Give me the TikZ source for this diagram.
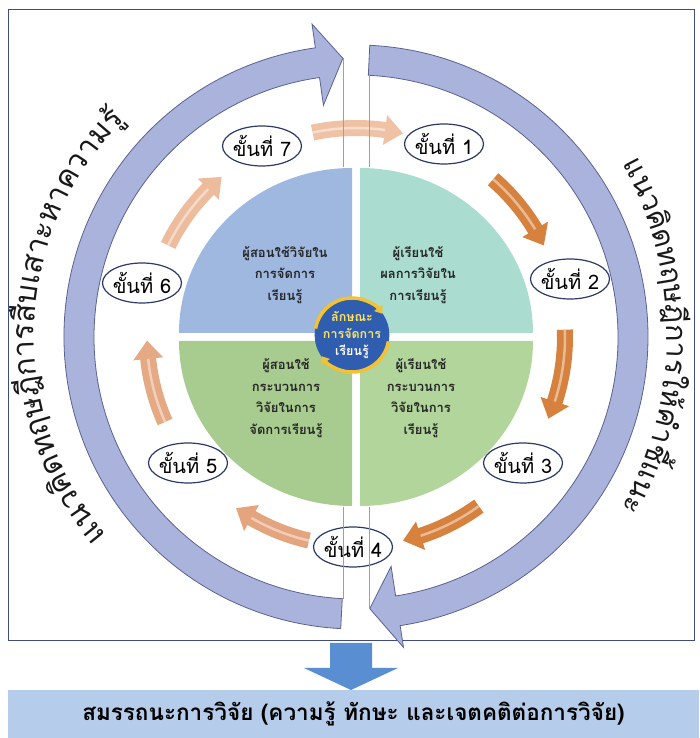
\documentclass[tikz,border=0pt]{standalone}
\usepackage{fontspec}
\usetikzlibrary{shapes.geometric, arrows.meta}
\newfontfamily\thaifont[Script=Thai]{Loma}

\definecolor{ringfill}{HTML}{A9B3DB}
\definecolor{ringline}{HTML}{5B6190}
\definecolor{frameline}{HTML}{3E4C82}
\definecolor{qblue}{HTML}{9FB8E0}
\definecolor{qmint}{HTML}{AADCCF}
\definecolor{qgreen}{HTML}{A8CC90}
\definecolor{qlime}{HTML}{B2D59C}
\definecolor{badgefill}{HTML}{2F5DB0}
\definecolor{gold}{HTML}{F2C232}
\definecolor{badgetext}{HTML}{FFE45C}
\definecolor{stepline}{HTML}{2B3A67}
\definecolor{boxfill}{HTML}{B5CDEA}
\definecolor{downfill}{HTML}{5A8ED3}
\definecolor{peach}{HTML}{EFC2A5}
\definecolor{rust}{HTML}{D6823E}
\definecolor{tan}{HTML}{E3A47E}

\newlength\clw
\newdimen\bendrun
% angles for text bent round the ring, one Thai cluster at a time (clockwise)
\newcommand\bendprep[5]{% #1 list macro, #2 radius, #3 middle angle, #4 font size, #5 clusters
  \global\bendrun=0pt
  \foreach \ch in {#5}{%
    \settowidth\clw{\thaifont\fontsize{#4}{#4}\selectfont\ch}%
    \global\advance\bendrun by \clw
  }%
  \pgfmathsetmacro\tmp{#3+\bendrun/2/#2*180/pi}%
  \xdef\bendang{\tmp}%
  \global\bendrun=0pt
  \gdef#1{}%
  \foreach \ch [count=\k] in {#5}{%
    \settowidth\clw{\thaifont\fontsize{#4}{#4}\selectfont\ch}%
    \pgfmathsetmacro\cang{\bendang-(\bendrun+0.5*\clw)/#2*180/pi}%
    \pgfmathsetmacro\rot{\cang-90}%
    \global\advance\bendrun by \clw
    \ifnum\k=1 \xdef#1{\cang/\rot/\ch}\else\xdef#1{#1,\cang/\rot/\ch}\fi
  }%
}
% curved block arrow between two steps (clockwise)
\newcommand\steparrow[3]{% from angle, to angle, colour
  \pgfmathsetmacro\hb{#2+5}%
  \fill[#3] (#1:201) arc[start angle=#1, end angle=\hb, radius=201]
    -- (\hb:194) -- (#2:209) -- (\hb:224) -- (\hb:217)
    arc[start angle=\hb, end angle=#1, radius=217] -- cycle;
  \draw[white, opacity=0.45, line width=2.5pt]
    (#1:209) arc[start angle=#1, end angle=\hb, radius=209];
}

\begin{document}
\bendprep{\leftlist}{305}{177.5}{30.5}{แ,น,ว,คิ,ด,ท,ฤ,ษ,ฎี,ก,า,ร,สื,บ,เ,ส,า,ะ,ห,า,ค,ว,า,ม,รู้}%
\bendprep{\rightlist}{352}{-0.2}{29}{แ,น,ว,คิ,ด,ท,ฤ,ษ,ฎี,ก,า,ร,ใ,ห้,คำ,ชี้,แ,น,ะ}%
\begin{tikzpicture}[x=1pt, y=1pt, font=\thaifont,
  ring/.style={fill=ringfill, draw=ringline, line width=0.8pt},
  hint/.style={draw=gray!75, line width=0.6pt},
  stepnode/.style={ellipse, draw=stepline, line width=1.2pt, fill=white,
    minimum width=79pt, minimum height=40pt, inner sep=0pt,
    font=\thaifont\fontsize{20}{21}\selectfont},
  quadtext/.style={align=center, text=black!85,
    font=\thaifont\bfseries\fontsize{13}{21.5}\selectfont},
  bendchar/.style={anchor=base, inner sep=0pt, text=black!90,
    font=\thaifont\fontsize{#1}{#1}\selectfont}
]
  \useasboundingbox (0,0) rectangle (699,738);

  % frame
  \draw[frameline, line width=1pt] (8,97) rectangle (694,728);

  \begin{scope}[shift={(356,401)}]
    % quarters
    \fill[qblue] (-4,4) -- ++(-173,0)
      arc[start angle=180, end angle=90, x radius=173, y radius=165] -- cycle;
    \fill[qmint] (4,4) -- ++(0,165)
      arc[start angle=90, end angle=0, x radius=173, y radius=165] -- cycle;
    \fill[qgreen] (-4,-4) -- ++(0,-165)
      arc[start angle=270, end angle=180, x radius=173, y radius=165] -- cycle;
    \fill[qlime] (4,-4) -- ++(173,0)
      arc[start angle=0, end angle=-90, x radius=173, y radius=165] -- cycle;

    \node[quadtext] (teach) at (-71,62) {ผู้สอนใช้วิจัยใน\\การจัดการ\\เรียนรู้};
    \node[quadtext] (learn) at (62,62) {ผู้เรียนใช้\\ผลการวิจัยใน\\การเรียนรู้};
    \node[quadtext] (teachproc) at (-70,-61) {ผู้สอนใช้\\กระบวนการ\\วิจัยในการ\\จัดการเรียนรู้};
    \node[quadtext] (learnproc) at (65,-61) {ผู้เรียนใช้\\กระบวนการ\\วิจัยในการ\\เรียนรู้};

    % big ring arrows
    \draw[ring] (267:262) arc[start angle=267, end angle=98, radius=262]
      -- (98:234) -- (92.7:279) -- (98:316) -- (98:292)
      arc[start angle=98, end angle=267, radius=292] -- cycle;
    \draw[ring] (87.3:262) -- (87.3:292)
      arc[start angle=87.3, end angle=-81.3, radius=292]
      -- (-81.3:314) -- (-87.1:272) -- (-81.3:232) -- (-81.3:262)
      arc[start angle=-81.3, end angle=87.3, radius=262] -- cycle;

    % step arrows
    \steparrow{102}{77}{peach}
    \steparrow{49}{26}{rust}
    \steparrow{2}{-23}{rust}
    \steparrow{-54}{-77}{rust}
    \steparrow{-103}{-125}{tan}
    \steparrow{-156}{-179}{tan!85!peach}
    \steparrow{154}{130}{peach!80!tan}

    % steps
    \node[stepnode] (s1) at (88,193) {\makebox[0pt]{ขั้นที่ 1}};
    \node[stepnode] (s2) at (214,58) {\makebox[0pt]{ขั้นที่ 2}};
    \node[stepnode] (s3) at (167,-126) {\makebox[0pt]{ขั้นที่ 3}};
    \node[stepnode] (s4) at (-3,-210) {\makebox[0pt]{ขั้นที่ 4}};
    \node[stepnode] (s5) at (-168,-126) {\makebox[0pt]{ขั้นที่ 5}};
    \node[stepnode] (s6) at (-214,54) {\makebox[0pt]{ขั้นที่ 6}};
    \node[stepnode] (s7) at (-94,191) {\makebox[0pt]{ขั้นที่ 7}};

    % seams of the ring
    \draw[hint] (-13,279) -- (-13,170);
    \draw[hint] (13,262) -- (13,170);
    \draw[hint] (-13,-170) -- (-13,-262);
    \draw[hint] (13,-170) -- (13,-272);

    % centre badge
    \node[circle, fill=badgefill, minimum size=66pt, inner sep=0pt, align=center,
      text=badgetext, font=\thaifont\bfseries\fontsize{12.5}{17}\selectfont]
      (badge) at (-4,2) {ลักษณะ\\การจัดการ\\\textcolor{white}{เรียนรู้}};
    \draw[gold, line width=3.5pt, -{Triangle[length=7pt, width=10pt]}]
      ([shift={(170:37)}]badge.center) arc[start angle=170, end angle=35, radius=37];
    \draw[gold, line width=3.5pt, -{Triangle[length=7pt, width=10pt]}]
      ([shift={(-10:37)}]badge.center) arc[start angle=-10, end angle=-145, radius=37];
  \end{scope}

  % texts round the ring
  \begin{scope}[shift={(339,401)}]
    \foreach \a/\r/\ch [count=\k] in \leftlist
      \node[bendchar=30.5, rotate=\r] (lt\k) at (\a:305) {\ch};
  \end{scope}
  \begin{scope}[shift={(315,403)}]
    \foreach \a/\r/\ch [count=\k] in \rightlist
      \node[bendchar=29, rotate=\r] (rt\k) at (\a:352) {\ch};
  \end{scope}

  % outcome
  \node[fill=boxfill, minimum width=691pt, minimum height=48pt, inner sep=0pt,
    font=\thaifont\bfseries\fontsize{22.5}{24}\selectfont]
    (result) at (353.5,24) {สมรรถนะการวิจัย (ความรู้ ทักษะ และเจตคติต่อการวิจัย)};
  \fill[downfill] (330,95) -- (372,95) -- (372,70) -- (398,70)
    -- (351,48) -- (304,70) -- (330,70) -- cycle;
\end{tikzpicture}
\end{document}
